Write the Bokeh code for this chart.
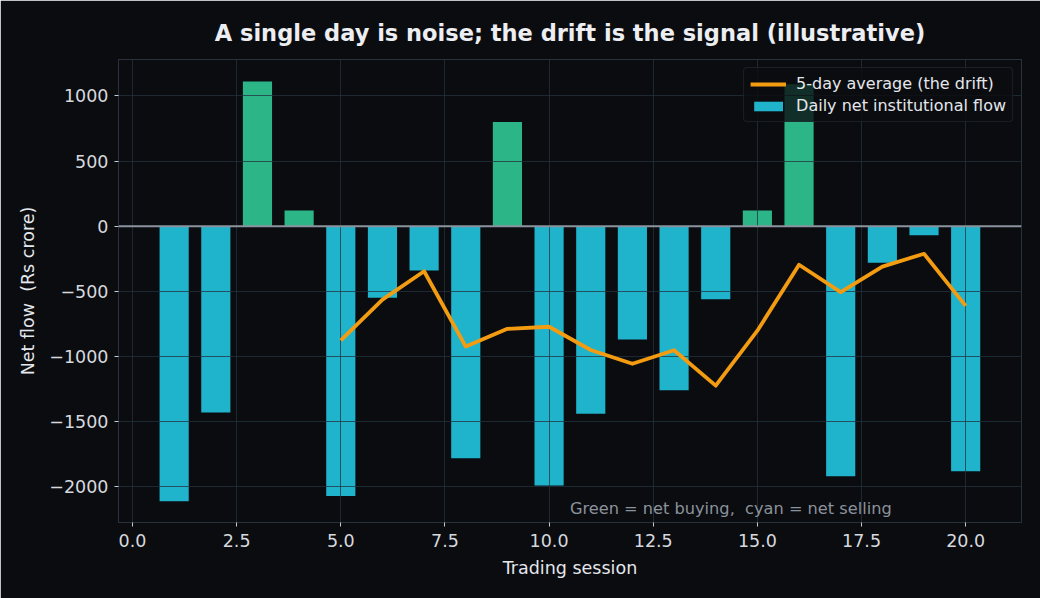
from bokeh.plotting import figure
from bokeh.models import (ColumnDataSource, FixedTicker, CustomJSTickFormatter, Span,
                          Label, Legend, LegendItem, Range1d)
from bokeh.embed import file_html
from bokeh.resources import INLINE

# Daily net institutional flow (Rs crore), sessions 1..20
sessions = list(range(1, 21))
daily_flow = [-2110, -1430, 1110, 120, -2070, -550, -340, -1780, 800, -1990,
              -1440, -870, -1260, -560, 120, 1090, -1920, -280, -70, -1880]

# 5-day average of the flow, sessions 5..20
avg_sessions = list(range(5, 21))
avg_flow = [-876, -564, -346, -924, -788, -772, -950, -1056, -952, -1224,
            -802, -296, -506, -310, -212, -612]

x_ticks = [0, 2.5, 5, 7.5, 10, 12.5, 15, 17.5, 20]
y_ticks = [-2000, -1500, -1000, -500, 0, 500, 1000]

BG = "#0b0c10"
TEXT = "#e4e7ec"
TICK_TEXT = "#d6d9de"
GREEN = "#2cb587"
CYAN = "#1fb3cc"
ORANGE = "#f39c12"
FONT = "DejaVu Sans"
NBSP = "\u00a0"

colors = [GREEN if v > 0 else CYAN for v in daily_flow]
bars = ColumnDataSource(dict(x=sessions, top=daily_flow, color=colors))
line = ColumnDataSource(dict(x=avg_sessions, y=avg_flow))

p = figure(width=1040, height=598, output_backend="svg", toolbar_location=None,
           x_range=Range1d(-0.336, 21.34), y_range=Range1d(-2274, 1279),
           min_border_left=118, min_border_right=19, min_border_top=59,
           min_border_bottom=76)

p.background_fill_color = BG
p.border_fill_color = BG
p.outline_line_color = "#27323d"
p.outline_line_width = 1

p.title.text = "A single day is noise; the drift is the signal (illustrative)"
p.title.align = "center"
p.title.text_color = "#eceef2"
p.title.text_font = FONT
p.title.text_font_size = "22.5px"
p.title.text_font_style = "bold"
p.title.standoff = 27

bar_r = p.vbar(x="x", top="top", bottom=0, width=0.7, source=bars,
               fill_color="color", line_color=None)
bar_r.level = "underlay"

zero = Span(location=0, dimension="width", line_color="#8a939e", line_width=2)
p.add_layout(zero)

line_r = p.line(x="x", y="y", source=line, line_color=ORANGE, line_width=3.8,
                line_join="round")
line_r.level = "annotation"

for grid in (p.xgrid, p.ygrid):
    grid.grid_line_color = "#23313e"
    grid.grid_line_alpha = 0.75
    grid.grid_line_width = 1
    grid.level = "glyph"

p.xgrid.ticker = FixedTicker(ticks=x_ticks)
p.ygrid.ticker = FixedTicker(ticks=y_ticks)

p.xaxis.ticker = FixedTicker(ticks=x_ticks)
p.yaxis.ticker = FixedTicker(ticks=y_ticks)
p.xaxis.formatter = CustomJSTickFormatter(code="return tick.toFixed(1);")
p.yaxis.formatter = CustomJSTickFormatter(
    code="return tick.toString().replace('-', '\\u2212');")

for ax in (p.xaxis, p.yaxis):
    ax.axis_line_color = None
    ax.major_tick_line_color = "#c8ccd2"
    ax.major_tick_out = 4
    ax.major_tick_in = 0
    ax.minor_tick_line_color = None
    ax.major_label_text_color = TICK_TEXT
    ax.major_label_text_font = FONT
    ax.major_label_text_font_size = "17.5px"
    ax.axis_label_text_color = TEXT
    ax.axis_label_text_font = FONT
    ax.axis_label_text_font_size = "17.5px"
    ax.axis_label_text_font_style = "normal"

p.xaxis.axis_label = "Trading session"
p.yaxis.axis_label = "Net flow" + NBSP + " (Rs crore)"
p.xaxis.major_label_standoff = 7
p.yaxis.major_label_standoff = 6
p.xaxis.axis_label_standoff = 8
p.yaxis.axis_label_standoff = 8

note = Label(x=10.5, y=-2167, text="Green = net buying," + NBSP + " cyan = net selling",
             text_color="#8a929c", text_font=FONT, text_font_size="16.2px",
             text_baseline="middle", text_align="left")
p.add_layout(note)

legend = Legend(items=[LegendItem(label="5-day average (the drift)", renderers=[line_r]),
                       LegendItem(label="Daily net institutional flow", renderers=[bar_r], index=0)],
                location="top_right")
legend.background_fill_color = "#0b0c10"
legend.background_fill_alpha = 0.8
legend.border_line_color = "#2a323b"
legend.border_line_width = 1.5
legend.border_radius = 4
legend.label_text_color = TEXT
legend.label_text_font = FONT
legend.label_text_font_size = "16px"
legend.glyph_width = 36
legend.glyph_height = 12
legend.label_height = 18
legend.spacing = 3
legend.padding = 6
legend.margin = 8
legend.label_standoff = 10
p.add_layout(legend)

open("out.html", "w").write(file_html(p, INLINE))
